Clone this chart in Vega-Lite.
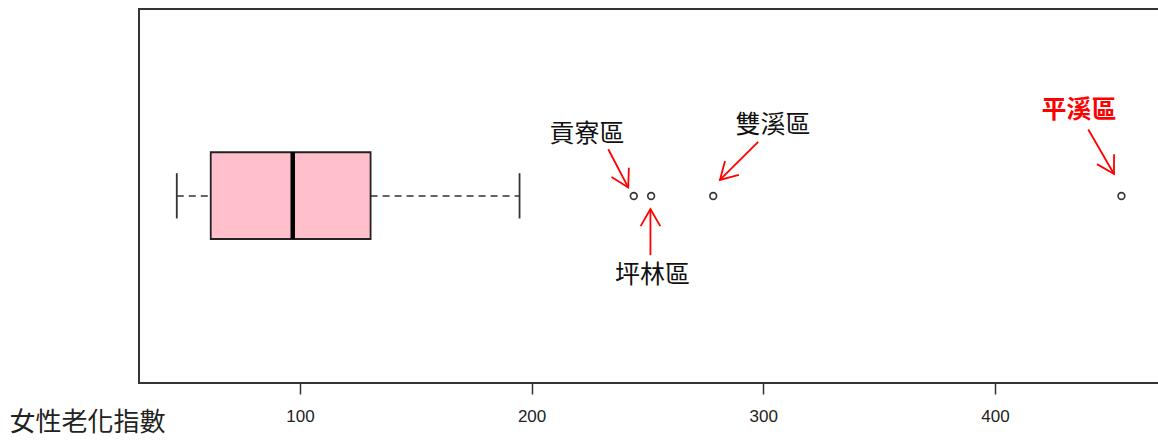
{
  "$schema": "https://vega.github.io/schema/vega-lite/v6.json",
  "autosize": {"type": "none"},
  "padding": {"left": 139, "top": 9, "right": 0, "bottom": 58},
  "width": 1021,
  "height": 374,
  "background": "white",
  "config": {
    "view": {"stroke": "#333333", "strokeWidth": 2},
    "axisX": {
      "grid": false,
      "domain": false,
      "tickSize": 11,
      "tickColor": "#333333",
      "tickWidth": 1.5,
      "labelFont": "Liberation Sans",
      "labelFontSize": 17,
      "labelColor": "#222222",
      "labelPadding": 14,
      "labelFlush": false,
      "titleFont": "Noto Sans CJK TC",
      "titleFontSize": 26,
      "titleFontWeight": "normal",
      "titleColor": "#222222",
      "titleAlign": "left",
      "titleBaseline": "middle",
      "titleAnchor": "start",
      "titleX": -130,
      "titleY": 39
    }
  },
  "datasets": {
    "box": [{"lo": 46.85, "q1": 61.5, "med": 96.9, "q3": 130.5, "hi": 194.8}],
    "out": [
      {"name": "貢寮區", "v": 244.1},
      {"name": "坪林區", "v": 251.6},
      {"name": "雙溪區", "v": 278.4},
      {"name": "平溪區", "v": 454.6}
    ],
    "ann": [
      {"name": "貢寮區", "lx": 223.9, "ly": 0.666, "sx": 233.1, "sy": 0.625, "ex": 241.7, "ey": 0.523, "dir": 152},
      {"name": "坪林區", "lx": 252.2, "ly": 0.289, "sx": 251.3, "sy": 0.342, "ex": 251.3, "ey": 0.465, "dir": 0},
      {"name": "雙溪區", "lx": 304.2, "ly": 0.690, "sx": 297.8, "sy": 0.645, "ex": 281.3, "ey": 0.543, "dir": 225},
      {"name": "平溪區", "lx": 436.3, "ly": 0.730, "sx": 440.3, "sy": 0.678, "ex": 451.4, "ey": 0.559, "dir": 150}
    ]
  },
  "layer": [
    {
      "data": {"name": "box"},
      "mark": {"type": "rule", "stroke": "#333333", "strokeWidth": 1.6, "strokeDash": [7, 5]},
      "encoding": {
        "x": {"field": "lo", "type": "quantitative", "title": "女性老化指數", "scale": {"domain": [30.54, 471.25], "nice": false, "zero": false},
              "axis": {"values": [100, 200, 300, 400]}},
        "x2": {"field": "q1"},
        "y": {"datum": 0.5, "type": "quantitative", "scale": {"domain": [0, 1], "nice": false, "zero": false}, "axis": null}
      }
    },
    {
      "data": {"name": "box"},
      "mark": {"type": "rule", "stroke": "#333333", "strokeWidth": 1.6, "strokeDash": [7, 5]},
      "encoding": {
        "x": {"field": "q3", "type": "quantitative", "title": "女性老化指數"},
        "x2": {"field": "hi"},
        "y": {"datum": 0.5, "type": "quantitative", "axis": null}
      }
    },
    {
      "data": {"name": "box"},
      "mark": {"type": "rule", "stroke": "#333333", "strokeWidth": 1.8},
      "encoding": {
        "x": {"field": "lo", "type": "quantitative", "title": "女性老化指數"},
        "y": {"datum": 0.44, "type": "quantitative", "axis": null},
        "y2": {"datum": 0.561}
      }
    },
    {
      "data": {"name": "box"},
      "mark": {"type": "rule", "stroke": "#333333", "strokeWidth": 1.8},
      "encoding": {
        "x": {"field": "hi", "type": "quantitative", "title": "女性老化指數"},
        "y": {"datum": 0.44, "type": "quantitative", "axis": null},
        "y2": {"datum": 0.561}
      }
    },
    {
      "data": {"name": "box"},
      "mark": {"type": "rect", "fill": "#FFC0CB", "stroke": "#222222", "strokeWidth": 1.8},
      "encoding": {
        "x": {"field": "q1", "type": "quantitative", "title": "女性老化指數"},
        "x2": {"field": "q3"},
        "y": {"datum": 0.385, "type": "quantitative", "axis": null},
        "y2": {"datum": 0.617}
      }
    },
    {
      "data": {"name": "box"},
      "mark": {"type": "rule", "stroke": "#000000", "strokeWidth": 4.5},
      "encoding": {
        "x": {"field": "med", "type": "quantitative", "title": "女性老化指數"},
        "y": {"datum": 0.385, "type": "quantitative", "axis": null},
        "y2": {"datum": 0.617}
      }
    },
    {
      "data": {"name": "out"},
      "mark": {"type": "point", "shape": "circle", "filled": false, "size": 45, "stroke": "#333333", "strokeWidth": 1.6, "opacity": 1},
      "encoding": {
        "x": {"field": "v", "type": "quantitative", "title": "女性老化指數"},
        "y": {"datum": 0.5, "type": "quantitative", "axis": null}
      }
    },
    {
      "data": {"name": "ann"},
      "mark": {"type": "rule", "stroke": "#FF0000", "strokeWidth": 1.8},
      "encoding": {
        "x": {"field": "sx", "type": "quantitative", "title": "女性老化指數"},
        "y": {"field": "sy", "type": "quantitative", "axis": null},
        "x2": {"field": "ex"},
        "y2": {"field": "ey"}
      }
    },
    {
      "data": {"name": "ann"},
      "mark": {"type": "point", "shape": "M-0.577,1L0,0L0.577,1", "filled": false, "size": 1156, "stroke": "#FF0000", "strokeWidth": 1.8, "opacity": 1},
      "encoding": {
        "x": {"field": "ex", "type": "quantitative", "title": "女性老化指數"},
        "y": {"field": "ey", "type": "quantitative", "axis": null},
        "angle": {"field": "dir", "type": "quantitative", "scale": null}
      }
    },
    {
      "data": {"name": "ann"},
      "transform": [{"filter": "datum.name !== '平溪區'"}],
      "mark": {"type": "text", "font": "Noto Sans CJK TC", "fontSize": 25, "color": "#111111", "align": "center", "baseline": "middle"},
      "encoding": {
        "x": {"field": "lx", "type": "quantitative", "title": "女性老化指數"},
        "y": {"field": "ly", "type": "quantitative", "axis": null},
        "text": {"field": "name"}
      }
    },
    {
      "data": {"name": "ann"},
      "transform": [{"filter": "datum.name === '平溪區'"}],
      "mark": {"type": "text", "font": "Noto Sans CJK TC", "fontSize": 25, "fontWeight": "bold", "color": "#FF0000", "align": "center", "baseline": "middle"},
      "encoding": {
        "x": {"field": "lx", "type": "quantitative", "title": "女性老化指數"},
        "y": {"field": "ly", "type": "quantitative", "axis": null},
        "text": {"field": "name"}
      }
    }
  ]
}
